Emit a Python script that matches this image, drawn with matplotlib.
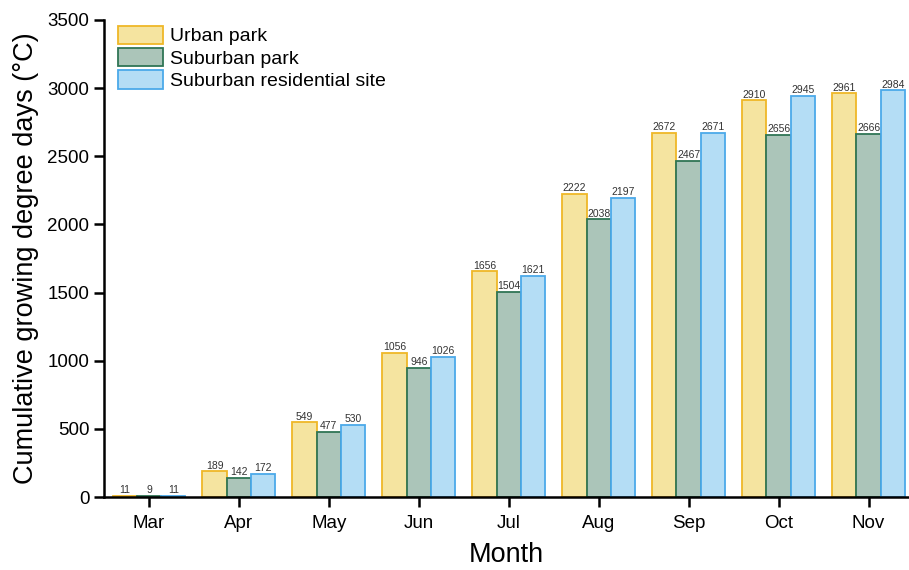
import numpy as np
import matplotlib.pyplot as plt

plt.rcParams['font.family'] = ['Liberation Sans', 'DejaVu Sans']

months = ['Mar', 'Apr', 'May', 'Jun', 'Jul', 'Aug', 'Sep', 'Oct', 'Nov']
urban_park = [11, 189, 549, 1056, 1656, 2222, 2672, 2910, 2961]
suburban_park = [9, 142, 477, 946, 1504, 2038, 2467, 2656, 2666]
suburban_residential = [11, 172, 530, 1026, 1621, 2197, 2671, 2945, 2984]

series = [
    ('Urban park', urban_park, '#F5E4A0', '#EFB728'),
    ('Suburban park', suburban_park, '#ABC5B9', '#2F7555'),
    ('Suburban residential site', suburban_residential, '#B4DDF5', '#4BA9E9'),
]

fig = plt.figure(figsize=(9.09, 5.70), dpi=100)
ax = fig.add_axes([0.1144, 0.128, 0.8856, 0.837])

x = np.arange(len(months))
w = 0.27
for i, (name, vals, fc, ec) in enumerate(series):
    pos = x + (i - 1) * w
    bars = ax.bar(pos, vals, width=w, color=fc, edgecolor=ec, linewidth=1.3, label=name)
    for b, v in zip(bars, vals):
        ax.annotate(str(v), (b.get_x() + b.get_width() / 2, v), xytext=(0, 0.5),
                    textcoords='offset points', ha='center', va='bottom',
                    fontsize=7.5, color='#333333')

ax.set_xlim(-0.5, 8.45)
ax.set_ylim(0, 3500)
ax.set_yticks(range(0, 3501, 500))
ax.set_xticks(x)
ax.set_xticklabels(months)
ax.tick_params(axis='both', labelsize=13.5, direction='out', length=7, width=1.8)
ax.tick_params(axis='x', pad=6)
for s in ['top', 'right']:
    ax.spines[s].set_visible(False)
for s in ['left', 'bottom']:
    ax.spines[s].set_linewidth(1.8)

ax.set_xlabel('Month', fontsize=19.5, labelpad=7)
ax.set_ylabel('Cumulative growing degree days (°C)', fontsize=19.5, labelpad=6)

ax.legend(loc='upper left', bbox_to_anchor=(-0.004, 1.025), frameon=False, fontsize=14,
          handlelength=2.3, handleheight=1.1, labelspacing=0.12, handletextpad=0.35)

fig.savefig('out.png', dpi=100)
